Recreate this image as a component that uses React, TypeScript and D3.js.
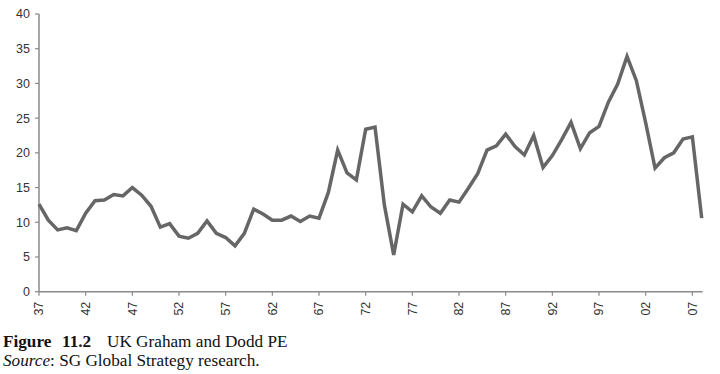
import React from "react";
import * as d3 from "d3";

// UK Graham and Dodd PE, annual, 1937-2008
const years = d3.range(1937, 2009);
const pe = [
  12.6, 10.3, 8.9, 9.2, 8.8, 11.3, 13.1, 13.2, 14.0, 13.8,
  15.0, 13.9, 12.3, 9.3, 9.8, 8.0, 7.7, 8.4, 10.2, 8.4,
  7.8, 6.6, 8.4, 11.9, 11.2, 10.3, 10.3, 10.9, 10.1, 10.9,
  10.6, 14.3, 20.4, 17.1, 16.1, 23.4, 23.7, 12.5, 5.3, 12.6,
  11.5, 13.8, 12.2, 11.3, 13.2, 12.9, 14.9, 17.0, 20.4, 21.0,
  22.7, 20.9, 19.7, 22.5, 17.9, 19.6, 21.9, 24.4, 20.6, 22.9,
  23.8, 27.3, 29.9, 33.9, 30.4, 24.3, 17.8, 19.3, 20.0, 22.0,
  22.3, 10.6,
];
const yTicks = [0, 5, 10, 15, 20, 25, 30, 35, 40];
const xTicks = d3.range(1937, 2008, 5);

export default function App() {
  const w = 720,
    h = 374;

  const xScale = d3.scaleLinear().domain([1937, 2008]).range([39, 701.7]);
  const yScale = d3.scaleLinear().domain([0, 40]).range([291.7, 14]);

  const line = d3
    .line<number>()
    .x((d, i) => xScale(years[i]))
    .y((d) => yScale(d));

  const axisColor = "#8a8a8a";
  const font = "'Liberation Sans', Arial, sans-serif";
  const serif = "'Liberation Serif', 'Times New Roman', serif";

  return (
    <svg
      width={w}
      height={h}
      style={{ position: "absolute", left: 0, top: 0, background: "#fff" }}
    >
      {/* y axis */}
      <line x1={39} x2={39} y1={14} y2={291.7} stroke={axisColor} strokeWidth={1.5} />
      {yTicks.map((d) => (
        <g key={d}>
          <line x1={35} x2={39} y1={yScale(d)} y2={yScale(d)} stroke={axisColor} strokeWidth={1.2} />
          <text
            x={30}
            y={yScale(d)}
            dy="0.35em"
            textAnchor="end"
            fontFamily={font}
            fontSize={12.5}
            fill="#333"
          >
            {d}
          </text>
        </g>
      ))}

      {/* x axis */}
      <line x1={39} x2={702.7} y1={291.7} y2={291.7} stroke={axisColor} strokeWidth={1.5} />
      {xTicks.map((d) => (
        <g key={d} transform={`translate(${xScale(d)},291.7)`}>
          <line y1={0} y2={4} stroke={axisColor} strokeWidth={1.2} />
          <text
            transform="rotate(-90)"
            x={-10}
            dy="0.35em"
            textAnchor="end"
            fontFamily={font}
            fontSize={12.5}
            fill="#333"
          >
            {String(d % 100).padStart(2, "0")}
          </text>
        </g>
      ))}

      {/* series */}
      <path
        d={line(pe) || ""}
        fill="none"
        stroke="#666"
        strokeWidth={3.5}
        strokeLinejoin="miter"
      />

      {/* caption */}
      <text x={3} y={346.7} fontFamily={serif} fontSize={17.2} fill="#111">
        <tspan fontWeight="bold">Figure</tspan>
        <tspan fontWeight="bold" x={62}>11.2</tspan>
        <tspan x={107}>UK Graham and Dodd PE</tspan>
      </text>
      <text x={3} y={366} fontFamily={serif} fontSize={17.2} fill="#111">
        <tspan fontStyle="italic">Source</tspan>
        <tspan>: SG Global Strategy research.</tspan>
      </text>
    </svg>
  );
}
